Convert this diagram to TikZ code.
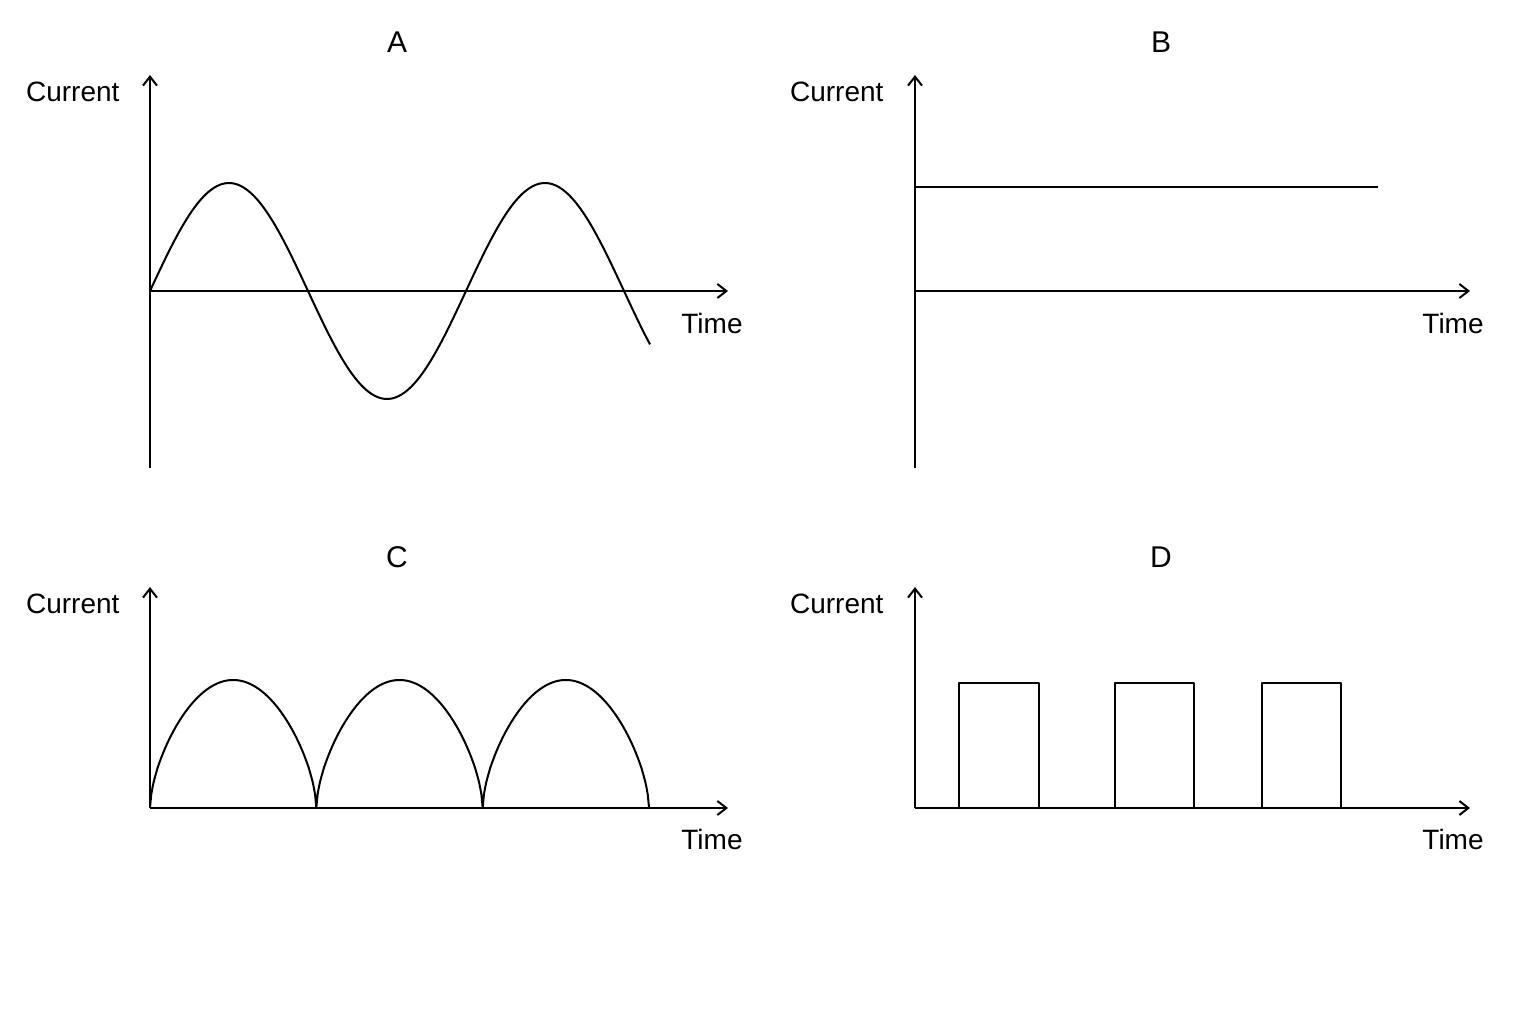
\documentclass[tikz,border=0pt]{standalone}
\usepackage{fontspec}
\setmainfont{Liberation Sans}
\usetikzlibrary{arrows.meta}
\begin{document}
\begin{tikzpicture}[x=1pt,y=-1pt,
  ax/.style={line width=2pt,-{Straight Barb[length=9pt,width=14pt]}},
  cv/.style={line width=2pt,line join=round},
  lab/.style={font=\fontsize{28}{32}\selectfont},
  ttl/.style={font=\fontsize{30}{34}\selectfont}]
\useasboundingbox (0,0) rectangle (1536,1024);
% A
\node[ttl] (tA) at (397,42) {A};
\coordinate (a0) at (150,468); \coordinate (a1) at (150,75);
\coordinate (ax0) at (150,291); \coordinate (ax1) at (728,291);
\draw[ax] (a0) -- (a1);
\draw[ax] (ax0) -- (ax1);
\node[lab,anchor=east] (cA) at (123,92) {Current};
\node[lab] (mA) at (712,323) {Time};
\draw[cv] plot[domain=150:650,samples=150,smooth] (\x,{291-108*sin((\x-150)/316*360)});
% B
\node[ttl] (tB) at (1161,42) {B};
\coordinate (b0) at (915,468); \coordinate (b1) at (915,75);
\coordinate (bx0) at (915,291); \coordinate (bx1) at (1470,291);
\draw[ax] (b0) -- (b1);
\draw[ax] (bx0) -- (bx1);
\node[lab,anchor=east] (cB) at (887,92) {Current};
\node[lab] (mB) at (1453,323) {Time};
\coordinate (bl0) at (915,187); \coordinate (bl1) at (1378,187);
\draw[cv] (bl0) -- (bl1);
% C
\node[ttl] (tC) at (397,557) {C};
\coordinate (c0) at (150,808); \coordinate (c1) at (150,587);
\coordinate (cx1) at (728,808);
\draw[ax] (c0) -- (c1);
\draw[ax] (c0) -- (cx1);
\node[lab,anchor=east] (cC) at (123,604) {Current};
\node[lab] (mC) at (712,839) {Time};
\draw[cv] plot[domain=150:649,samples=400] (\x,{808-128*pow(abs(sin((\x-150)/166.33*180)),0.6)});
% D
\node[ttl] (tD) at (1161,557) {D};
\coordinate (d0) at (915,808); \coordinate (d1) at (915,587);
\coordinate (dx1) at (1470,808);
\draw[ax] (d0) -- (d1);
\draw[ax] (d0) -- (dx1);
\node[lab,anchor=east] (cD) at (887,604) {Current};
\node[lab] (mD) at (1453,839) {Time};
\draw[cv] (959,808) -- (959,683) -- (1039,683) -- (1039,808);
\draw[cv] (1115,808) -- (1115,683) -- (1194,683) -- (1194,808);
\draw[cv] (1262,808) -- (1262,683) -- (1341,683) -- (1341,808);
\end{tikzpicture}
\end{document}
